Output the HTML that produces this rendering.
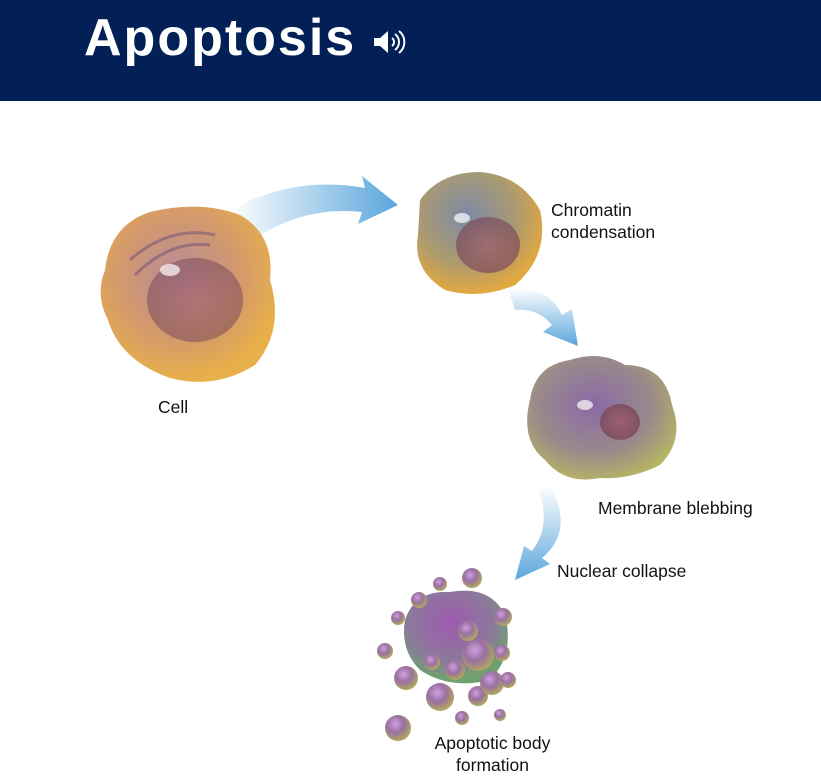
<!DOCTYPE html>
<html><head><style>
body{margin:0;width:821px;height:780px;overflow:hidden;background:#fff;font-family:"Liberation Sans",sans-serif;position:relative}
.hdr{position:absolute;left:0;top:0;width:821px;height:101px;background:#021f56}
.t{position:absolute;left:84px;top:8px;color:#fff;font-weight:bold;font-size:52px;letter-spacing:2px}
.l{position:absolute;font-size:17.5px;color:#111;line-height:22px}
</style></head><body>
<div class="hdr"><div class="t">Apoptosis</div>
<svg style="position:absolute;left:372px;top:28px" width="36" height="28" viewBox="0 0 36 28"><path d="M2 10h6l8-7v22l-8-7H2z" fill="#fff"/><path d="M20 10a5 5 0 0 1 0 8M23 6a10 10 0 0 1 0 16M27 3a14 14 0 0 1 0 22" stroke="#fff" stroke-width="2" fill="none"/></svg>
</div>
<svg width="821" height="780" style="position:absolute;left:0;top:0">
<defs>
<linearGradient id="a1" x1="0" y1="0" x2="1" y2="0"><stop offset="0" stop-color="#fff"/><stop offset="1" stop-color="#5aa6dc"/></linearGradient>
<linearGradient id="a2" x1="0" y1="0" x2="0" y2="1"><stop offset="0" stop-color="#fff"/><stop offset="1" stop-color="#5aa6dc"/></linearGradient>
<radialGradient id="c1" cx="0.45" cy="0.4" r="0.6"><stop offset="0" stop-color="#b88a9a"/><stop offset="0.6" stop-color="#d49a6a"/><stop offset="1" stop-color="#e8b048"/></radialGradient>
<radialGradient id="c2" cx="0.4" cy="0.35" r="0.65"><stop offset="0" stop-color="#7f8aa8"/><stop offset="0.6" stop-color="#aa9a70"/><stop offset="1" stop-color="#e2a840"/></radialGradient>
<radialGradient id="c3" cx="0.45" cy="0.4" r="0.65"><stop offset="0" stop-color="#8a6aa8"/><stop offset="0.6" stop-color="#9a8a8a"/><stop offset="1" stop-color="#b8b860"/></radialGradient>
<radialGradient id="n" cx="0.5" cy="0.5" r="0.5"><stop offset="0" stop-color="#a05a6a"/><stop offset="1" stop-color="#7a4a5a"/></radialGradient>
<radialGradient id="b" cx="0.4" cy="0.35" r="0.65"><stop offset="0" stop-color="#d0a0e0"/><stop offset="0.5" stop-color="#9a70a0"/><stop offset="1" stop-color="#b0a860"/></radialGradient>
<radialGradient id="c4" cx="0.45" cy="0.35" r="0.6"><stop offset="0" stop-color="#a05ab0"/><stop offset="0.7" stop-color="#8a7a9a"/><stop offset="1" stop-color="#70a070"/></radialGradient>
</defs>
<path d="M230 210 Q295 175 365 188 L362 176 L398 205 L358 224 L362 212 Q300 205 245 245 Z" fill="url(#a1)"/>
<path d="M508 288 Q548 285 562 315 L572 309 L578 346 L543 332 L552 325 Q538 308 515 310 Z" fill="url(#a2)"/>
<path d="M550 486 Q575 530 542 558 L550 564 L515 580 L524 546 L532 551 Q552 525 538 490 Z" fill="url(#a2)"/>
<path d="M105 270 Q110 225 150 212 Q200 200 240 215 Q275 235 270 280 Q285 330 255 365 Q215 390 170 378 Q120 360 108 320 Q95 295 105 270Z" fill="url(#c1)"/>
<ellipse cx="195" cy="300" rx="48" ry="42" fill="url(#n)" opacity="0.55"/>
<ellipse cx="170" cy="270" rx="10" ry="6" fill="#fff" opacity="0.7"/>
<path d="M130 260 Q170 225 215 235 M135 275 Q170 240 210 245" stroke="#7a5a7a" stroke-width="3" fill="none" opacity="0.6"/>
<path d="M420 200 Q440 172 480 172 Q520 175 540 210 Q550 255 515 285 Q480 300 445 290 Q412 270 418 235Z" fill="url(#c2)"/>
<ellipse cx="488" cy="245" rx="32" ry="28" fill="url(#n)" opacity="0.7"/>
<ellipse cx="462" cy="218" rx="8" ry="5" fill="#fff" opacity="0.7"/>
<path d="M530 400 Q535 365 570 360 Q600 350 625 365 Q665 365 672 405 Q685 440 660 465 Q630 480 600 478 Q565 485 545 460 Q520 440 530 400Z" fill="url(#c3)"/>
<ellipse cx="620" cy="422" rx="20" ry="18" fill="url(#n)" opacity="0.85"/>
<ellipse cx="585" cy="405" rx="8" ry="5" fill="#fff" opacity="0.7"/>
<path d="M405 620 Q415 590 450 592 Q490 585 505 615 Q515 655 490 680 Q450 690 420 670 Q400 650 405 620Z" fill="url(#c4)"/>
<g fill="url(#b)">
<circle cx="472" cy="578" r="10"/><circle cx="440" cy="584" r="7"/><circle cx="419" cy="600" r="8"/><circle cx="398" cy="618" r="7"/><circle cx="503" cy="617" r="9"/><circle cx="385" cy="651" r="8"/><circle cx="468" cy="631" r="10"/><circle cx="478" cy="655" r="16"/><circle cx="502" cy="653" r="8"/><circle cx="406" cy="678" r="12"/><circle cx="432" cy="662" r="8"/><circle cx="455" cy="670" r="10"/><circle cx="440" cy="697" r="14"/><circle cx="478" cy="696" r="10"/><circle cx="492" cy="683" r="12"/><circle cx="508" cy="680" r="8"/><circle cx="398" cy="728" r="13"/><circle cx="462" cy="718" r="7"/><circle cx="500" cy="715" r="6"/>
</g>
</svg>
<div class="l" style="left:158px;top:396px">Cell</div>
<div class="l" style="left:551px;top:199px">Chromatin<br>condensation</div>
<div class="l" style="left:598px;top:497px">Membrane blebbing</div>
<div class="l" style="left:557px;top:560px">Nuclear collapse</div>
<div class="l" style="left:420px;top:732px;width:145px;text-align:center">Apoptotic body<br>formation</div>
</body></html>
